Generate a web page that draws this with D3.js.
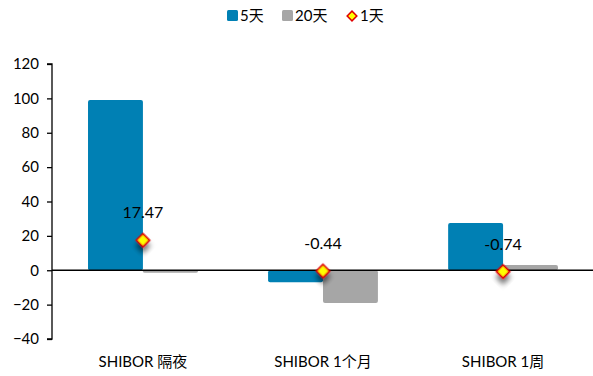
<!DOCTYPE html>
<html lang="zh">
<head>
<meta charset="utf-8">
<style>
  html, body { margin:0; padding:0; overflow:hidden; background:#fff; }
  svg { font-family: "Lato", "Noto Sans CJK SC", sans-serif; }
</style>
</head>
<body>
<svg width="593" height="376"></svg>
<script src="https://d3js.org/d3.v7.min.js"></script>
<script>
// data
var categories = ["SHIBOR 隔夜", "SHIBOR 1个月", "SHIBOR 1周"];
var series = ["5天", "20天"];
var val5d  = [99, -7, 27.5];
var val20d = [-1.5, -19, 3];
var val1d  = [17.47, -0.44, -0.74];
var yTicks = [-40, -20, 0, 20, 40, 60, 80, 100, 120];

var colors = { "5天": "#0080B4", "20天": "#A6A6A6" };

var svg = d3.select("svg"),
    plotL = 52, plotR = 594, plotT = 64, plotB = 339;

var y = d3.scaleLinear().domain([-40, 120]).range([plotB, plotT]);
var x0 = d3.scaleBand().domain(categories).range([plotL, plotR]).paddingInner(0.39).paddingOuter(0.2);
var x1 = d3.scaleBand().domain(series).range([0, x0.bandwidth()]);

var defs = svg.append("defs");
var f = defs.append("filter").attr("id", "shadow").attr("x", "-50%").attr("y", "-50%").attr("width", "250%").attr("height", "250%");
f.append("feDropShadow").attr("dx", 4).attr("dy", 4).attr("stdDeviation", 2.5).attr("flood-color", "#000").attr("flood-opacity", 0.5);

// bars
var rows = categories.map(function (c, i) {
    return { cat: c, vals: [{ s: "5天", v: val5d[i] }, { s: "20天", v: val20d[i] }] };
});
var g = svg.selectAll(".grp").data(rows).enter().append("g")
    .attr("transform", function (d) { return "translate(" + x0(d.cat) + ",0)"; });
g.selectAll("rect").data(function (d) { return d.vals; }).enter().append("rect")
    .attr("x", function (d) { return x1(d.s); })
    .attr("y", function (d) { return y(Math.max(0, d.v)); })
    .attr("width", x1.bandwidth())
    .attr("height", function (d) { return Math.abs(y(d.v) - y(0)); })
    .attr("rx", 2)
    .attr("fill", function (d) { return colors[d.s]; });

// y axis
var yAxis = svg.append("g").attr("transform", "translate(" + plotL + ",0)")
    .call(d3.axisLeft(y).tickValues(yTicks).tickSize(5).tickPadding(8));
yAxis.select(".domain").attr("stroke", "#000").attr("stroke-width", 1.3).attr("d", "M-5," + y(120) + "H0V" + y(-40) + "H-5");
yAxis.selectAll(".tick line").attr("stroke", "#000").attr("stroke-width", 1.3);
yAxis.selectAll(".tick text").attr("font-size", 15).attr("fill", "#000").attr("font-family", "Lato, sans-serif");

// zero line
svg.append("line").attr("x1", plotL).attr("x2", 593).attr("y1", y(0)).attr("y2", y(0))
    .attr("stroke", "#000").attr("stroke-width", 1.3);

// 1天 markers
var diamond = d3.symbol().type(d3.symbolSquare2).size(110);
svg.selectAll(".mk").data(val1d).enter().append("path")
    .attr("d", diamond)
    .attr("transform", function (d, i) { return "translate(" + (x0(categories[i]) + x0.bandwidth() / 2) + "," + y(d) + ") rotate(45)"; })
    .attr("fill", "#FFFF00").attr("stroke", "#E00000").attr("stroke-width", 1.8)
    .attr("filter", "url(#shadow)");
svg.selectAll(".lbl").data(val1d).enter().append("text")
    .attr("x", function (d, i) { return x0(categories[i]) + x0.bandwidth() / 2; })
    .attr("y", function (d) { return y(d) - 22; })
    .attr("text-anchor", "middle").attr("font-size", 16).attr("fill", "#000")
    .text(function (d) { return d.toFixed(2); });

// x labels
svg.selectAll(".xl").data(categories).enter().append("text")
    .attr("x", function (d) { return x0(d) + x0.bandwidth() / 2; })
    .attr("y", 367).attr("text-anchor", "middle").attr("font-size", 15).attr("fill", "#000")
    .text(function (d) { return d; });

// legend
var lg = svg.append("g").attr("transform", "translate(0,16)");
lg.append("rect").attr("x", 227).attr("y", -6).attr("width", 11).attr("height", 11).attr("rx", 1.5).attr("fill", colors["5天"]);
lg.append("text").attr("x", 240).attr("y", 5).attr("font-size", 15).text("5天");
lg.append("rect").attr("x", 282).attr("y", -6).attr("width", 11).attr("height", 11).attr("rx", 1.5).attr("fill", colors["20天"]);
lg.append("text").attr("x", 295).attr("y", 5).attr("font-size", 15).text("20天");
lg.append("path").attr("d", d3.symbol().type(d3.symbolSquare2).size(60))
    .attr("transform", "translate(352,0) rotate(45)")
    .attr("fill", "#FFFF00").attr("stroke", "#E00000").attr("stroke-width", 1.5);
lg.append("text").attr("x", 360).attr("y", 5).attr("font-size", 15).text("1天");
</script>
</body>
</html>
